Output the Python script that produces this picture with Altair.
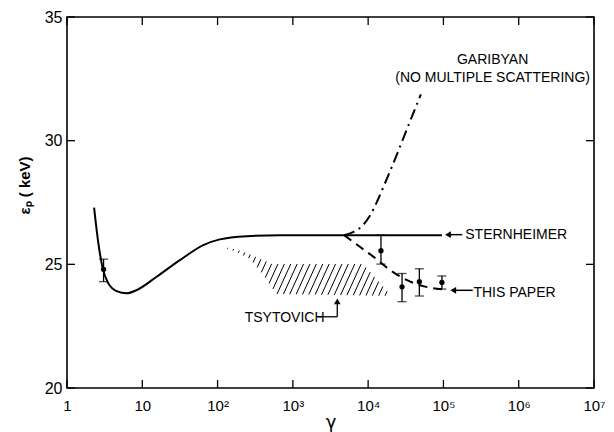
import altair as alt
import numpy as np
import pandas as pd

# ---- data ----
# Sternheimer (solid)
st_gamma = [2.29, 2.61, 2.98, 3.54, 4.57, 6.21, 8.41, 15.5, 31.6, 64.6, 107, 245, 676, 4790, 95500]
st_ep = [27.29, 25.85, 24.84, 24.23, 23.92, 23.83, 23.96, 24.5, 25.17, 25.78, 26.01, 26.14, 26.18, 26.18, 26.18]

# Garibyan (dash-dot, no multiple scattering)
ga_gamma = [4790, 6310, 8320, 10500, 13200, 16600, 22400, 31600, 50100]
ga_ep = [26.18, 26.3, 26.55, 26.95, 27.55, 28.25, 29.2, 30.35, 31.87]

# This paper (dashed)
tp_gamma = [4790, 7760, 11700, 19500, 32400, 53700, 95500]
tp_ep = [26.18, 25.71, 25.31, 24.77, 24.37, 24.12, 23.99]

# Measurements with error bars
pt_gamma = [3.06, 14800, 28200, 47900, 95500]
pt_ep = [24.8, 25.55, 24.09, 24.30, 24.27]
pt_lo = [24.30, 25.01, 23.49, 23.72, 24.0]
pt_hi = [25.21, 26.18, 24.63, 24.82, 24.53]

# Tsytovich hatched region (outline)
ts_gamma = [112, 178, 282, 398, 525, 8510, 20400, 603, 407, 269, 178]
ts_ep = [25.72, 25.6, 25.38, 25.18, 25.02, 25.02, 23.72, 23.8, 24.57, 25.22, 25.5]

x_ticks = [1, 10, 100, 1000, 10000, 100000, 1000000, 10000000]
y_ticks = [20, 25, 30, 35]
x_labels = ["1", "10", "10²", "10³", "10⁴", "10⁵", "10⁶", "10⁷"]

# annotations
txt_gamma = [4.5e5, 4.5e5]
txt_ep = [33.26, 32.53]
txt_label = ["GARIBYAN", "(NO MULTIPLE SCATTERING)"]
ltxt_gamma = [1.95e5, 2.5e5, 229]
ltxt_ep = [26.2, 23.85, 22.85]
ltxt_label = ["STERNHEIMER", "THIS PAPER", "TSYTOVICH"]

arrow_tip_gamma = [115000, 135000]
arrow_tail_gamma = [178000, 245000]
arrow_ep = [26.2, 23.95]

ts_arrow_h = [2140, 3890]   # horizontal leader of Tsytovich label
ts_arrow_ep = [22.88, 23.5]

# ---- hatch lines clipped to the Tsytovich outline ----
px = np.log10(np.array(ts_gamma, dtype=float))
py = np.array(ts_ep, dtype=float)


def inside(x, y):
    res = np.zeros_like(x, dtype=bool)
    n = len(px)
    j = n - 1
    for i in range(n):
        cond = ((py[i] > y) != (py[j] > y)) & (
            x < (px[j] - px[i]) * (y - py[i]) / (py[j] - py[i] + 1e-12) + px[i])
        res ^= cond
        j = i
    return res


k = 0.15      # decades per keV (slope of hatch)
step = 0.085  # decades between hatch lines
vs = np.arange(23.5, 26.0, 0.004)
segs = []
for c in np.arange(1.5, 4.5, step):
    xs = c + k * (vs - 23.7)
    m = inside(xs, vs)
    if not m.any():
        continue
    idx = np.where(m)[0]
    runs = np.split(idx, np.where(np.diff(idx) > 1)[0] + 1)
    for r in runs:
        if len(r) < 2:
            continue
        segs.append({"g": 10 ** xs[r[0]], "g2": 10 ** xs[r[-1]],
                     "e": vs[r[0]], "e2": vs[r[-1]]})
hatch = pd.DataFrame(segs)

W, H = 527, 371
FONT = "Liberation Sans"

xs_scale = alt.Scale(type="log", domain=[1, 1e7])
ys_scale = alt.Scale(domain=[20, 35])

label_expr = ("datum.value < 5 ? '1' : datum.value < 50 ? '10' : datum.value < 500 ? '10²' : "
              "datum.value < 5000 ? '10³' : datum.value < 50000 ? '10⁴' : datum.value < 500000 ? '10⁵' : "
              "datum.value < 5000000 ? '10⁶' : '10⁷'")

x_axis = alt.Axis(values=x_ticks, labelExpr=label_expr, ticks=False, domain=False,
                  grid=False, labelFont=FONT, labelFontSize=15, labelPadding=10,
                  labelColor="black", labelFlush=False,
                  title="γ", titleFont="DejaVu Sans", titleFontSize=18,
                  titleFontWeight="normal", titlePadding=0, titleColor="black")
y_axis = alt.Axis(values=y_ticks, ticks=False, domain=False, grid=False,
                  labelFont=FONT, labelFontSize=16, labelPadding=5,
                  labelColor="black",
                  title="εₚ ( keV)", titleFont=FONT, titleFontSize=15,
                  titleFontWeight="bold", titleColor="black",
                  titleAlign="center", titleX=-35, titleY=168)


def X(f):
    return alt.X(f, scale=xs_scale, axis=x_axis)


def Y(f):
    return alt.Y(f, scale=ys_scale, axis=y_axis)


st = pd.DataFrame({"g": st_gamma, "e": st_ep})
base_line = alt.Chart(st).mark_line(color="black", strokeWidth=2, interpolate="monotone").encode(
    x=X("g:Q"), y=Y("e:Q"))

ga = alt.Chart(pd.DataFrame({"g": ga_gamma, "e": ga_ep})).mark_line(
    color="black", strokeWidth=2, strokeDash=[11, 5, 2, 5], interpolate="monotone").encode(
    x=X("g:Q"), y=Y("e:Q"))

tp = alt.Chart(pd.DataFrame({"g": tp_gamma, "e": tp_ep})).mark_line(
    color="black", strokeWidth=2, strokeDash=[9, 6], interpolate="monotone").encode(
    x=X("g:Q"), y=Y("e:Q"))

pts_df = pd.DataFrame({"g": pt_gamma, "e": pt_ep, "lo": pt_lo, "hi": pt_hi})
pts = alt.Chart(pts_df)
err = pts.mark_rule(color="black", strokeWidth=1.3).encode(
    x=X("g:Q"), y=Y("lo:Q"), y2="hi:Q")
cap_lo = pts.mark_tick(color="black", orient="horizontal", size=9, thickness=1.3).encode(
    x=X("g:Q"), y=Y("lo:Q"))
cap_hi = pts.mark_tick(color="black", orient="horizontal", size=9, thickness=1.3).encode(
    x=X("g:Q"), y=Y("hi:Q"))
dots = pts.mark_point(color="black", filled=True, size=28, opacity=1).encode(
    x=X("g:Q"), y=Y("e:Q"))

hatch_layer = alt.Chart(hatch).mark_rule(color="black", strokeWidth=1).encode(
    x=X("g:Q"), x2="g2:Q", y=Y("e:Q"), y2="e2:Q")

ctext = alt.Chart(pd.DataFrame({"g": txt_gamma, "e": txt_ep, "t": txt_label})).mark_text(
    font=FONT, fontSize=14, color="black", align="center", baseline="middle").encode(
    x=X("g:Q"), y=Y("e:Q"), text="t:N")

ltext = alt.Chart(pd.DataFrame({"g": ltxt_gamma, "e": ltxt_ep, "t": ltxt_label})).mark_text(
    font=FONT, fontSize=14, color="black", align="left", baseline="middle").encode(
    x=X("g:Q"), y=Y("e:Q"), text="t:N")

arr_df = pd.DataFrame({"g": arrow_tip_gamma, "g2": arrow_tail_gamma, "e": arrow_ep})
arr_line = alt.Chart(arr_df).mark_rule(color="black", strokeWidth=1.5).encode(
    x=X("g:Q"), x2="g2:Q", y=Y("e:Q"))
arr_head = alt.Chart(arr_df).mark_point(shape="triangle-left", filled=True, size=45,
                                        color="black", opacity=1).encode(
    x=X("g:Q"), y=Y("e:Q"))

ts_h = alt.Chart(pd.DataFrame({"g": [ts_arrow_h[0]], "g2": [ts_arrow_h[1]], "e": [ts_arrow_ep[0]]})).mark_rule(
    color="black", strokeWidth=1.3).encode(
    x=X("g:Q"), x2="g2:Q", y=Y("e:Q"))
ts_v = alt.Chart(pd.DataFrame({"g": [ts_arrow_h[1]], "e": [ts_arrow_ep[0]], "e2": [ts_arrow_ep[1]]})).mark_rule(
    color="black", strokeWidth=1.3).encode(
    x=X("g:Q"), y=Y("e:Q"), y2="e2:Q")
ts_head = alt.Chart(pd.DataFrame({"g": [ts_arrow_h[1]], "e": [ts_arrow_ep[1]]})).mark_point(
    shape="triangle-up", filled=True, size=45, color="black", opacity=1).encode(
    x=X("g:Q"), y=Y("e:Q"))

# inward ticks on all four sides
xt = pd.DataFrame({"g": x_ticks})
yt = pd.DataFrame({"e": y_ticks})
xt_bot = alt.Chart(xt).mark_rule(color="black", strokeWidth=1.3).encode(
    x=X("g:Q"), y=alt.value(H), y2=alt.value(H - 8))
xt_top = alt.Chart(xt).mark_rule(color="black", strokeWidth=1.3).encode(
    x=X("g:Q"), y=alt.value(0), y2=alt.value(8))
yt_left = alt.Chart(yt).mark_rule(color="black", strokeWidth=1.3).encode(
    y=Y("e:Q"), x=alt.value(0), x2=alt.value(8))
yt_right = alt.Chart(yt).mark_rule(color="black", strokeWidth=1.3).encode(
    y=Y("e:Q"), x=alt.value(W), x2=alt.value(W - 8))

chart = alt.layer(
    base_line, ga, tp, hatch_layer, err, cap_lo, cap_hi, dots, ctext, ltext,
    arr_line, arr_head, ts_h, ts_v, ts_head, xt_bot, xt_top, yt_left, yt_right
).properties(
    width=W, height=H,
    padding={"left": 59, "top": 9, "right": 12, "bottom": 44},
    autosize=alt.AutoSizeParams(type="none"),
    background="white",
).configure_view(stroke="black", strokeWidth=1.6)

chart.save("out.html", embed_options={"renderer": "svg", "actions": False})
